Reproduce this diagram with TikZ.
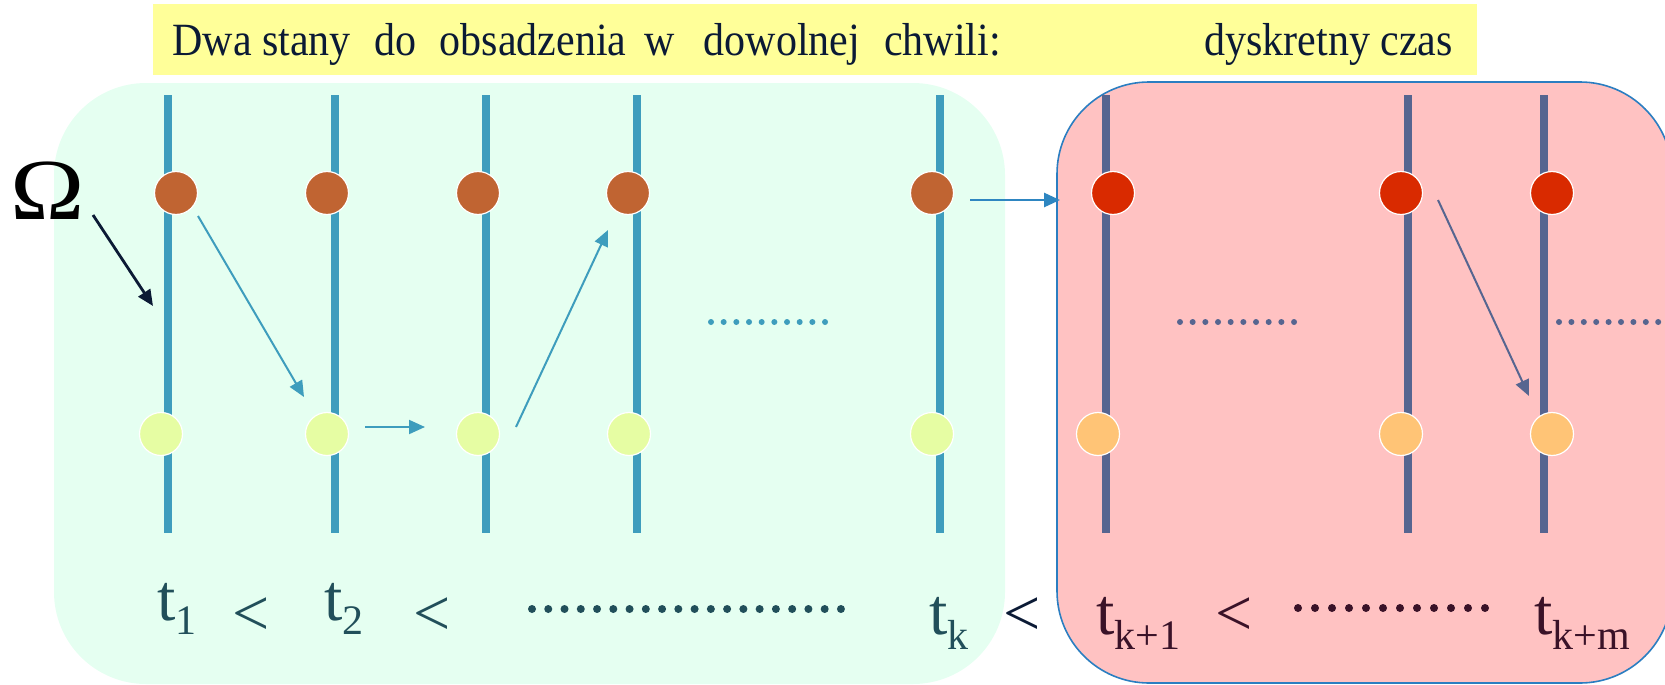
\documentclass[tikz,border=0pt]{standalone}
\usepackage{fontspec}
\setmainfont{Liberation Serif}
\usetikzlibrary{arrows.meta,calc}
\definecolor{hdrbg}{HTML}{FFFF99}
\definecolor{greenbg}{HTML}{E5FFF1}
\definecolor{redbg}{HTML}{FFC2C2}
\definecolor{redborder}{HTML}{2B7EC1}
\definecolor{cteal}{HTML}{3E9DBD}
\definecolor{cslate}{HTML}{566590}
\definecolor{cbrown}{HTML}{C06432}
\definecolor{clime}{HTML}{E6FDA3}
\definecolor{cred}{HTML}{D92A00}
\definecolor{corange}{HTML}{FFC476}
\definecolor{cnavy}{HTML}{0B1A35}
\definecolor{clabg}{HTML}{214F5A}
\definecolor{clabr}{HTML}{3A1228}
\definecolor{carrowD}{HTML}{2E86C1}
\begin{document}
\begin{tikzpicture}[x=0.5pt,y=-0.5pt,
  state/.style={circle,minimum size=21.5pt,inner sep=0pt,draw=white,line width=0.6pt},
  vline/.style={line width=4pt},
  conn/.style={line width=1pt,-{Triangle[length=8pt,width=7pt]}},
  big/.style={inner sep=0pt,font=\fontsize{33}{33}\selectfont},
  lab/.style={big,anchor=base west},
  lt/.style={big,anchor=base},
  hdr/.style={inner sep=0pt,anchor=base west,text=cnavy,font=\fontsize{21}{21}\selectfont}]
\useasboundingbox (0,0) rectangle (1665,685);
% header
\fill[hdrbg] (153,4) rectangle (1477,75);
\node[hdr] (h1) at (172,55) {\scalebox{1}[1.1]{Dwa stany\hspace{12pt}do\hspace{11.5pt}obsadzenia\hspace{9pt}w\hspace{14.5pt}dowolnej\hspace{12pt}chwili:}};
\node[hdr] (h2) at (1204,55) {\scalebox{1}[1.1]{dyskretny czas}};
% background boxes
\fill[greenbg,rounded corners=46pt] (54,83) rectangle (1005,684);
\filldraw[fill=redbg,draw=redborder,line width=0.8pt,rounded corners=46pt] (1057,82) rectangle (1672,683);
% vertical lines
\foreach \x in {168,335,486,637,940} \draw[vline,cteal] (\x,95) -- (\x,533);
\foreach \x in {1106,1408,1544} \draw[vline,cslate] (\x,95) -- (\x,533);
% states
\node[state,fill=cbrown] (g1t) at (176,193) {};
\node[state,fill=cbrown] (g2t) at (327,193) {};
\node[state,fill=cbrown] (g3t) at (478,193) {};
\node[state,fill=cbrown] (g4t) at (628,193) {};
\node[state,fill=cbrown] (g5t) at (932,193) {};
\node[state,fill=clime] (g1b) at (161,434) {};
\node[state,fill=clime] (g2b) at (327,434) {};
\node[state,fill=clime] (g3b) at (478,434) {};
\node[state,fill=clime] (g4b) at (629,434) {};
\node[state,fill=clime] (g5b) at (932,434) {};
\node[state,fill=cred] (r1t) at (1113,193) {};
\node[state,fill=cred] (r2t) at (1401,193) {};
\node[state,fill=cred] (r3t) at (1552,193) {};
\node[state,fill=corange] (r1b) at (1098,434) {};
\node[state,fill=corange] (r2b) at (1401,434) {};
\node[state,fill=corange] (r3b) at (1552,434) {};
% omega
\node[inner sep=0pt,anchor=base,font=\fontsize{43.5}{43.5}\selectfont] (om) at (48,219) {\scalebox{1.15}[1]{Ω}};
\coordinate (omtip) at (153,306);
% arrows
\draw[conn,cnavy,line width=1.4pt] ($(om.base)+(45,-4)$) -- (omtip);
\draw[conn,cteal] ($(g1t)+(22,23)$) -- ($(g2b)+(-23,-37)$);
\draw[conn,cteal] ($(g2b)+(38,-7)$) -- ($(g3b)+(-53,-7)$);
\draw[conn,cteal] ($(g3b)+(38,-7)$) -- ($(g4t)+(-20,37)$);
\draw[conn,carrowD,line width=1.4pt] ($(g5t)+(38,7)$) -- ($(r1t)+(-53,7)$);
\draw[conn,cslate] ($(r2t)+(37,7)$) -- ($(r3b)+(-23,-38)$);
% middle dotted rows
\foreach \i in {0,...,9} \fill[cteal] ({711+\i*12.67},322) circle (1.5pt);
\foreach \i in {0,...,9} \fill[cslate] ({1180+\i*12.67},322) circle (1.5pt);
\foreach \i in {0,...,8} \fill[cslate] ({1559+\i*12.4},322) circle (1.5pt);
% time labels
\node[lab,text=clabg] (t1) at (157,620) {t\raisebox{-7pt}{\fontsize{21}{21}\selectfont 1}};
\node[lab,text=clabg] (t2) at (324,620) {t\raisebox{-7pt}{\fontsize{21}{21}\selectfont 2}};
\node[lab,text=clabg] (tk) at (929,634) {t\raisebox{-7.5pt}{\fontsize{21}{21}\selectfont k}};
\node[lab,text=clabr] (tk1) at (1096,634) {t\raisebox{-7.5pt}{\fontsize{21}{21}\selectfont k+1}};
\node[lab,text=clabr] (tkm) at (1534,634) {t\raisebox{-7.5pt}{\fontsize{21}{21}\selectfont k+m}};
\node[lt,text=clabg] (lt1) at (251,635) {<};
\node[lt,text=clabg] (lt2) at (432,635) {<};
\node[lt,text=cnavy] (lt3) at (1022,635) {<};
\node[lt,text=clabr] (lt4) at (1234,635) {<};
\foreach \i in {0,...,19} \fill[clabg] ({532+\i*16.26},609) circle (2pt);
\foreach \i in {0,...,11} \fill[clabr] ({1298+\i*17},608) circle (2pt);
\end{tikzpicture}
\end{document}
